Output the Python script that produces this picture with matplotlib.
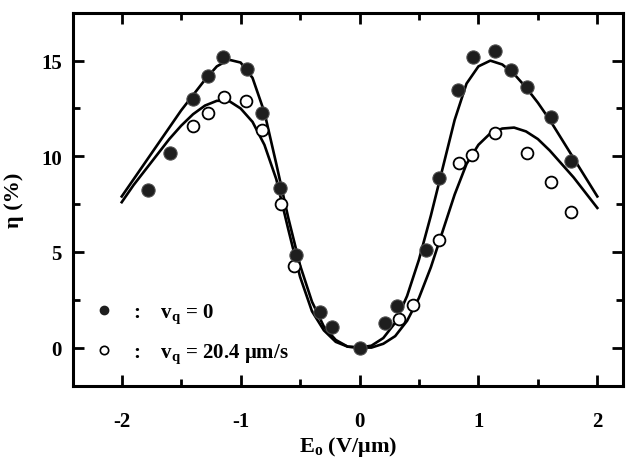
import numpy as np
import matplotlib
matplotlib.use("Agg")
import matplotlib.pyplot as plt
from matplotlib.lines import Line2D

plt.rcParams['font.family'] = ['Liberation Serif', 'DejaVu Serif']
plt.rcParams['font.weight'] = 'bold'
plt.rcParams['axes.labelweight'] = 'bold'
plt.rcParams['axes.unicode_minus'] = False
plt.rcParams['mathtext.fontset'] = 'custom'
plt.rcParams['mathtext.rm'] = 'Liberation Serif:bold'
plt.rcParams['mathtext.it'] = 'Liberation Serif:bold'
plt.rcParams['mathtext.bf'] = 'Liberation Serif:bold'

# measured points, v_q = 0 (filled)
x_filled = [-1.775, -1.597, -1.40, -1.277, -1.15, -0.948, -0.824, -0.672, -0.538,
            -0.336, -0.229, 0.0, 0.218, 0.319, 0.555, 0.672, 0.824, 0.951,
            1.143, 1.277, 1.405, 1.607, 1.78]
y_filled = [8.24, 10.15, 12.97, 14.2, 15.18, 14.56, 12.26, 8.33, 4.85,
            1.85, 1.06, 0.0, 1.27, 2.15, 5.12, 8.88, 13.45, 15.18,
            15.5, 14.5, 13.62, 12.05, 9.74]

# measured points, v_q = 20.4 um/s (open)
x_open = [-1.40, -1.274, -1.143, -0.951, -0.824, -0.662, -0.555, 0.336, 0.447,
          0.672, 0.834, 0.948, 1.143, 1.405, 1.607, 1.78]
y_open = [11.56, 12.26, 13.1, 12.88, 11.35, 7.53, 4.27, 1.5, 2.24,
          5.65, 9.67, 10.06, 11.24, 10.15, 8.65, 7.09]

# theory curves
curve_x = np.round(np.linspace(-2, 2, 41), 1)
curve_a = [7.9, 8.8, 9.7, 10.6, 11.5, 12.4, 13.2, 14.0, 14.7, 15.05,
           14.9, 14.1, 12.3, 9.6, 6.8, 4.3, 2.4, 1.1, 0.4, 0.05,
           0.0, 0.1, 0.5, 1.3, 2.7, 4.6, 6.9, 9.4, 11.9, 13.8,
           14.7, 15.0, 14.8, 14.3, 13.6, 12.8, 11.9, 10.9, 9.9, 8.9, 7.9]
curve_b = [7.6, 8.5, 9.3, 10.1, 10.9, 11.6, 12.2, 12.65, 12.9, 12.9,
           12.5, 11.8, 10.6, 8.8, 6.2, 3.7, 1.9, 0.9, 0.3, 0.05,
           0.0, 0.0, 0.2, 0.6, 1.4, 2.6, 4.2, 6.1, 8.0, 9.6,
           10.6, 11.2, 11.45, 11.5, 11.3, 10.9, 10.3, 9.6, 8.9, 8.1, 7.3]

fig = plt.figure(figsize=(6.27, 4.6), dpi=100)
ax = fig.add_axes([0.1164, 0.159, 0.878, 0.811])

ax.plot(curve_x, curve_a, color='black', lw=1.9, zorder=2)
ax.plot(curve_x, curve_b, color='black', lw=1.9, zorder=2)

ax.plot(x_open, y_open, 'o', ms=8.5, mfc='white', mec='black', mew=1.3, zorder=3)
ax.plot(x_filled, y_filled, 'o', ms=9.5, mfc='#1e1e1e', mec='#4a4a4a', mew=0.8, zorder=4)

ax.set_xlim(-2.41, 2.22)
ax.set_ylim(-2, 17.5)
ax.set_xticks([-2, -1, 0, 1, 2])
ax.set_xticks([-1.5, -0.5, 0.5, 1.5], minor=True)
ax.set_yticks([0, 5, 10, 15])
ax.set_yticks([2.5, 7.5, 12.5], minor=True)
ax.tick_params(which='both', direction='in', top=True, right=True, width=2)
ax.tick_params(which='major', length=8, labelsize=15)
ax.tick_params(which='minor', length=5)
ax.tick_params(axis='x', pad=18)
ax.tick_params(axis='y', pad=8)
for lab in ax.get_xticklabels() + ax.get_yticklabels():
    lab.set_fontweight('bold')
for s in ax.spines.values():
    s.set_linewidth(2.2)

ax.set_xlabel(r'E$_\mathrm{o}$ (V/$\mathrm{\mu}$m)', fontsize=16, labelpad=2)
ax.set_ylabel('η (%)', fontsize=16, labelpad=12)

handles = [
    Line2D([], [], ls='none', marker='o', ms=6, mfc='#1e1e1e', mec='#1e1e1e'),
    Line2D([], [], ls='none', marker='o', ms=6, mfc='white', mec='black', mew=1.2),
]
labels = [r':    $\mathrm{v_q}$ = 0', r':    $\mathrm{v_q}$ = 20.4 $\mathrm{\mu}$m/s']
ax.legend(handles, labels, loc='lower left', bbox_to_anchor=(0.0, 0.005),
          frameon=False, handlelength=1.2, handletextpad=0.8,
          labelspacing=0.8, prop={'weight': 'bold', 'size': 15})

fig.savefig('out.png', dpi=100)
